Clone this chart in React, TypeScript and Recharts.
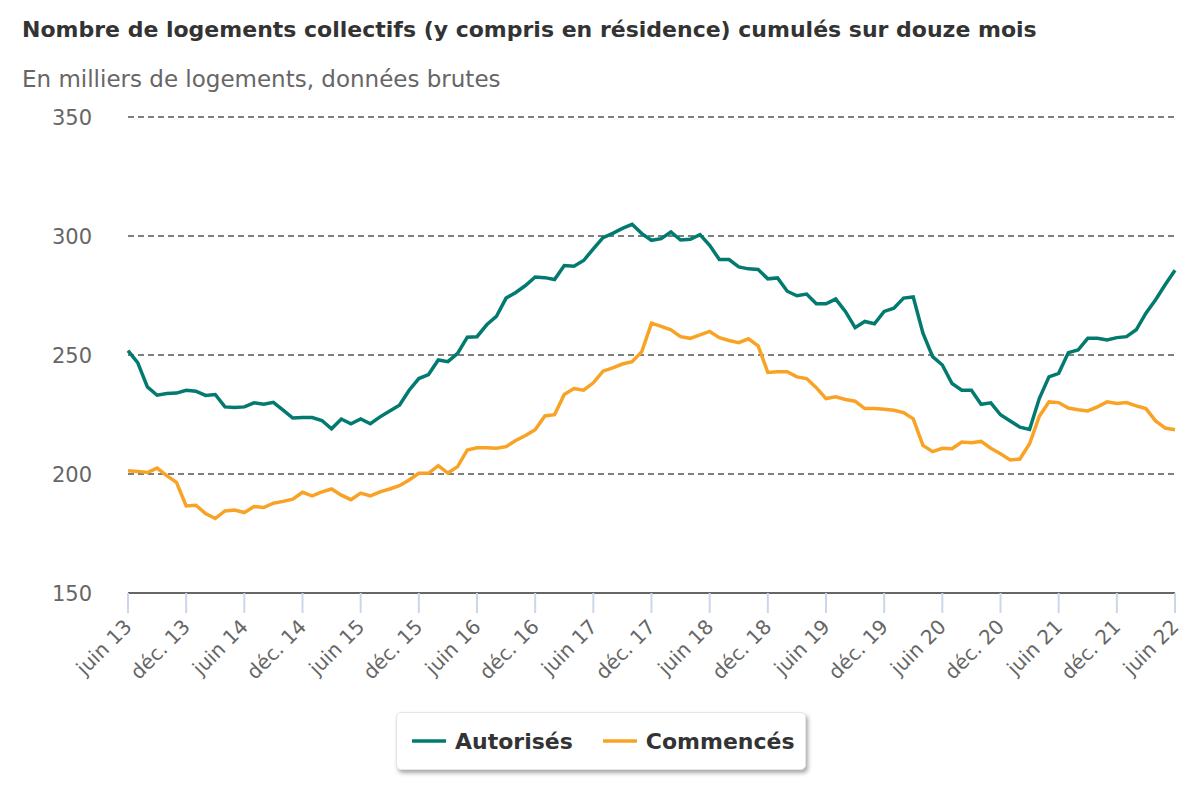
import React from 'react';
import { LineChart, Line, XAxis, YAxis, CartesianGrid, Legend } from 'recharts';

const tickLabels = [
  'juin 13', 'déc. 13', 'juin 14', 'déc. 14', 'juin 15', 'déc. 15', 'juin 16', 'déc. 16',
  'juin 17', 'déc. 17', 'juin 18', 'déc. 18', 'juin 19', 'déc. 19', 'juin 20', 'déc. 20',
  'juin 21', 'déc. 21', 'juin 22',
];

// Monthly values, juin 2013 .. juin 2022 (109 months), in thousands
const autorises = [
  251.8, 246.8, 236.6, 233.1, 233.8, 234.0, 235.2, 234.8, 233.0, 233.4, 228.2, 227.9,
  228.2, 229.9, 229.3, 230.1, 226.8, 223.5, 223.7, 223.7, 222.5, 219.0, 223.1, 221.1,
  223.1, 221.1, 224.0, 226.5, 228.9, 235.2, 240.1, 241.8, 247.9, 247.2, 250.7, 257.5,
  257.7, 262.7, 266.2, 273.9, 276.3, 279.2, 282.8, 282.5, 281.7, 287.6, 287.3, 289.7,
  294.6, 299.3, 301.1, 303.2, 304.9, 301.0, 298.2, 298.9, 301.7, 298.3, 298.6, 300.6,
  296.1, 290.1, 290.1, 287.0, 286.2, 285.9, 282.0, 282.4, 276.8, 274.9, 275.6, 271.5,
  271.5, 273.5, 268.3, 261.5, 264.1, 263.1, 268.3, 269.7, 273.9, 274.4, 259.2, 249.3,
  245.8, 238.0, 235.2, 235.2, 229.3, 229.9, 224.9, 222.3, 219.7, 218.7, 231.7, 240.8,
  242.3, 251.0, 252.1, 257.0, 257.0, 256.3, 257.3, 257.7, 260.6, 267.6, 273.2, 279.6,
  285.6,
];

const commences = [
  201.4, 201.1, 200.6, 202.5, 199.3, 196.5, 186.6, 186.9, 183.4, 181.3, 184.5, 184.9,
  183.8, 186.3, 185.9, 187.7, 188.5, 189.4, 192.3, 190.8, 192.5, 193.7, 191.1, 189.2,
  192.0, 190.8, 192.5, 193.7, 195.1, 197.5, 200.3, 200.3, 203.5, 200.4, 203.1, 210.1,
  211.0, 211.0, 210.8, 211.5, 214.1, 216.2, 218.6, 224.4, 224.9, 233.4, 235.9, 235.2,
  238.3, 243.2, 244.6, 246.2, 247.2, 251.4, 263.4, 262.0, 260.6, 257.7, 257.0, 258.5,
  259.9, 257.3, 256.1, 255.2, 256.8, 253.8, 242.7, 243.0, 243.0, 240.8, 240.1, 236.3,
  231.7, 232.4, 231.3, 230.6, 227.5, 227.5, 227.2, 226.8, 225.8, 223.2, 212.0, 209.4,
  210.8, 210.6, 213.4, 213.1, 213.7, 210.8, 208.5, 205.9, 206.3, 212.7, 224.2, 230.3,
  230.0, 227.7, 227.0, 226.5, 228.2, 230.3, 229.6, 230.0, 228.6, 227.5, 222.3, 219.3,
  218.6,
];

const yTicks = [150, 200, 250, 300, 350];
const xTicks = tickLabels.map((_, k) => k * 6);

const data = autorises.map((v, i) => ({ m: i, autorises: v, commences: commences[i] }));

const FONT = '"DejaVu Sans", Verdana, sans-serif';
const TEAL = '#037a70';
const ORANGE = '#f8a325';

const XTick = (props: any) => {
  const { x, y, payload } = props;
  const label = tickLabels[Math.round(payload.value / 6)];
  return (
    <g transform={`translate(${x + 5},${y + 13})`}>
      <text x={0} y={0} transform="rotate(-45)" textAnchor="end" fill="#666" fontSize={20} fontFamily={FONT}>
        {label}
      </text>
    </g>
  );
};

const YTick = (props: any) => {
  const { y, payload } = props;
  return (
    <text x={92} y={y} dy={7.5} textAnchor="end" fill="#666" fontSize={21} fontFamily={FONT}>
      {payload.value}
    </text>
  );
};

const LegendBox = () => (
  <div
    style={{
      width: 410,
      height: 58,
      boxSizing: 'border-box',
      background: '#fff',
      border: '1px solid #e6e6e6',
      borderRadius: 5,
      boxShadow: '2px 3px 4px rgba(0,0,0,0.35)',
      display: 'flex',
      alignItems: 'center',
      fontFamily: FONT,
      fontWeight: 'bold',
      fontSize: 22,
      color: '#333',
    }}
  >
    <svg width={34} height={4} style={{ marginLeft: 15 }}>
      <line x1={0} y1={2} x2={34} y2={2} stroke={TEAL} strokeWidth={3.5} />
    </svg>
    <span style={{ marginLeft: 9 }}>Autorisés</span>
    <svg width={34} height={4} style={{ marginLeft: 30 }}>
      <line x1={0} y1={2} x2={34} y2={2} stroke={ORANGE} strokeWidth={3.5} />
    </svg>
    <span style={{ marginLeft: 9 }}>Commencés</span>
  </div>
);

export default function App() {
  return (
    <div style={{ position: 'absolute', left: 0, top: 0, width: 1200, height: 800, background: '#fff' }}>
      <div
        style={{
          position: 'absolute', left: 22, top: 17, fontFamily: FONT, fontWeight: 'bold',
          fontSize: 22, color: '#333', whiteSpace: 'nowrap', lineHeight: 'normal',
        }}
      >
        Nombre de logements collectifs (y compris en résidence) cumulés sur douze mois
      </div>
      <div
        style={{
          position: 'absolute', left: 22, top: 66, fontFamily: FONT,
          fontSize: 23, color: '#666', whiteSpace: 'nowrap', lineHeight: 'normal',
        }}
      >
        En milliers de logements, données brutes
      </div>
      <LineChart
        width={1200}
        height={800}
        data={data}
        margin={{ top: 117, right: 25, left: 0, bottom: 49 }}
      >
        <CartesianGrid horizontal vertical={false} stroke="#555" strokeDasharray="6 4" strokeWidth={1.3} />
        <XAxis
          dataKey="m"
          type="number"
          domain={[0, 108]}
          ticks={xTicks}
          interval={0}
          height={100}
          tick={<XTick />}
          tickSize={20}
          tickLine={{ stroke: '#ccd6eb', strokeWidth: 2 }}
          axisLine={{ stroke: '#666', strokeWidth: 2 }}
        />
        <YAxis
          width={128}
          domain={[150, 350]}
          ticks={yTicks}
          interval={0}
          tick={<YTick />}
          axisLine={false}
          tickLine={false}
        />
        <Legend
          content={<LegendBox />}
          wrapperStyle={{ position: 'absolute', left: 396, top: 712, width: 410, height: 58 }}
        />
        <Line type="linear" dataKey="autorises" name="Autorisés" stroke={TEAL} strokeWidth={3.5} dot={false} isAnimationActive={false} />
        <Line type="linear" dataKey="commences" name="Commencés" stroke={ORANGE} strokeWidth={3.5} dot={false} isAnimationActive={false} />
      </LineChart>
    </div>
  );
}
